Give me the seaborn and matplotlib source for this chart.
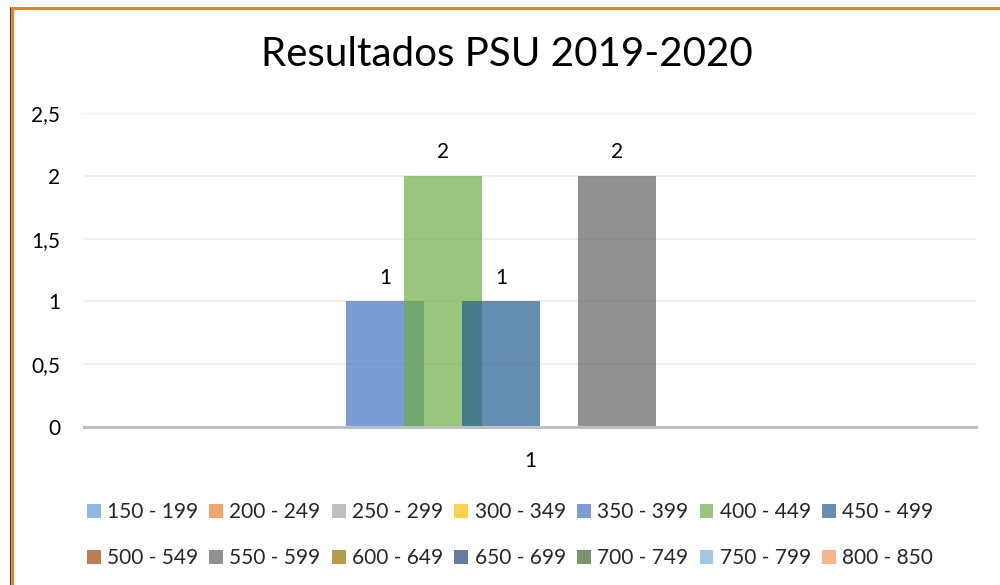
import matplotlib
matplotlib.use("Agg")
import matplotlib.pyplot as plt
import seaborn as sns
import pandas as pd
from matplotlib.patches import Patch
from matplotlib.lines import Line2D

# ---- data ----
series = ["150 - 199", "200 - 249", "250 - 299", "300 - 349", "350 - 399",
          "400 - 449", "450 - 499", "500 - 549", "550 - 599", "600 - 649",
          "650 - 699", "700 - 749", "750 - 799", "800 - 850"]
values = [0, 0, 0, 0, 1, 2, 1, 0, 2, 0, 0, 0, 0, 0]
category_label = "1"
yticks = [0, 0.5, 1, 1.5, 2, 2.5]
ytick_labels = ["0", "0,5", "1", "1,5", "2", "2,5"]
title = "Resultados PSU 2019-2020"
colors = ["#5B9BD5", "#ED7D31", "#A5A5A5", "#FFC000", "#4472C4", "#70AD47",
          "#255E91", "#9E480E", "#636363", "#997300", "#264478", "#43682B",
          "#7CAFDD", "#F1975A"]

df = pd.DataFrame({"series": series, "value": values,
                   "pos": list(range(len(series)))})

sns.set_theme(style="white")
plt.rcParams["font.family"] = ["Lato", "DejaVu Sans"]

W, H = 1000, 585
FS = 15
fig = plt.figure(figsize=(W / 100, H / 100), dpi=100)
fig.patch.set_facecolor("white")
ax = fig.add_axes([84 / W, 1 - 427 / H, (976 - 84) / W, (427 - 113) / H])

sns.barplot(data=df, x="pos", y="value", hue="series", palette=colors,
            native_scale=True, dodge=False, width=78 / 58, alpha=0.7,
            saturation=1, linewidth=0, legend=False, ax=ax)

n = len(series)
center = (n - 1) / 2
half = (976 - 84) / 2 / 58
ax.set_xlim(center - half, center + half)
ax.set_ylim(0, 2.5)
ax.set_xticks([center])
ax.set_xticklabels([category_label], fontsize=FS)
ax.set_yticks(yticks)
ax.set_yticklabels(ytick_labels, fontsize=FS)
ax.tick_params(axis="both", length=0, colors="#000000")
ax.tick_params(axis="x", pad=17.5)
ax.tick_params(axis="y", pad=17)
ax.set_xlabel("")
ax.set_ylabel("")
for s in ["top", "right", "left"]:
    ax.spines[s].set_visible(False)
ax.spines["bottom"].set_color("#BFBFBF")
ax.spines["bottom"].set_linewidth(2.2)
ax.spines["bottom"].set_zorder(5)
ax.yaxis.grid(True, color="#EFEFEF", linewidth=1.5)
ax.set_axisbelow(True)

for cont, v in zip(ax.containers, values):
    ax.bar_label(cont, labels=[f"{v:g}" if v > 0 else ""], padding=10,
                 fontsize=FS, color="#000000")

fig.text(0.507, 1 - 55 / H, title, ha="center", va="center", fontsize=29,
         color="#000000")

# legend entries laid out row by row (matplotlib fills column-wise)
ncol = 7
nrow = 2
order = [r * ncol + c for c in range(ncol) for r in range(nrow)]
handles = [Patch(facecolor=colors[i], alpha=0.7, edgecolor="none")
           for i in order]
labels = [series[i] for i in order]
fig.legend(handles, labels, ncol=ncol, loc="center",
           bbox_to_anchor=(0.51, 1 - 535 / H), frameon=False, fontsize=FS,
           handlelength=0.67, handleheight=0.67, handletextpad=0.3,
           columnspacing=0.54, labelspacing=1.25)

# orange chart border (only top and left visible)
fig.add_artist(Line2D([10 / W, 10 / W], [0, 1 - 7 / H], color="#3A3A3A",
                      linewidth=0.8, transform=fig.transFigure))
fig.add_artist(Line2D([11.5 / W, 11.5 / W], [0, 1 - 8 / H], color="#ED7D31",
                      linewidth=2.2, transform=fig.transFigure))
fig.add_artist(Line2D([11.5 / W, 1], [1 - 8 / H, 1 - 8 / H], color="#ED7D31",
                      linewidth=2.2, transform=fig.transFigure))

fig.savefig("out.png", dpi=100, facecolor="white")
